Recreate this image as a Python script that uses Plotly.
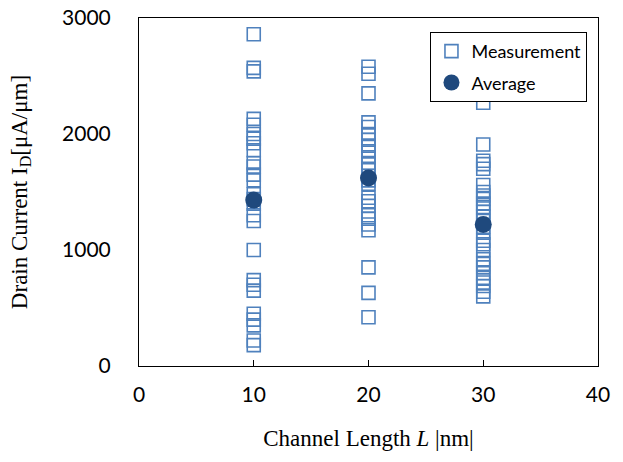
import plotly.graph_objects as go

lengths = [10, 20, 30]
meas_10 = [2860, 2570, 2540, 2130, 2080, 2000, 1960, 1920, 1860, 1750, 1720, 1650, 1600,
           1480, 1440, 1400, 1300, 1250, 1000, 740, 700, 650, 450, 400, 350, 220, 180]
meas_20 = [2580, 2520, 2350, 2100, 2060, 2000, 1950, 1900, 1850, 1800, 1750, 1700, 1640,
           1600, 1570, 1450, 1420, 1380, 1300, 1270, 1220, 1170, 850, 630, 420]
meas_30 = [2270, 1910, 1770, 1740, 1700, 1560, 1500, 1470, 1440, 1400, 1370, 1330, 1290,
           1250, 1200, 1150, 1080, 1050, 1000, 920, 880, 850, 800, 760, 720, 690, 640, 600]
averages = [1430, 1620, 1220]

mx, my = [], []
for L, vals in zip(lengths, [meas_10, meas_20, meas_30]):
    mx += [L] * len(vals)
    my += vals

fig = go.Figure()
fig.add_trace(go.Scatter(
    x=mx, y=my, mode="markers", name="Measurement", legendgroup="m",
    marker=dict(symbol="square-open", size=13, color="#4f81bd", line=dict(width=1.6)),
))
fig.add_trace(go.Scatter(
    x=lengths, y=averages, mode="markers", name="Average", legendgroup="a",
    marker=dict(symbol="circle", size=17, color="#1f497d"),
))

fig.update_layout(
    width=623, height=462,
    margin=dict(l=139, r=25, t=18, b=96, autoexpand=False),
    paper_bgcolor="white", plot_bgcolor="white",
    font=dict(family="Lato, Open Sans, sans-serif", color="black"),
    showlegend=True,
    legend=dict(
        x=0.635, y=0.96, xanchor="left", yanchor="top",
        bordercolor="black", borderwidth=1, bgcolor="white",
        font=dict(size=18, family="Lato, Open Sans, sans-serif"),
        traceorder="grouped", tracegroupgap=5,
    ),
    xaxis=dict(
        range=[0, 40], tickvals=[0, 10, 20, 30, 40], ticks="inside", ticklen=6,
        tickcolor="black", showline=True, linecolor="black", linewidth=1, mirror=True,
        showgrid=False, zeroline=False, tickfont=dict(size=21), automargin=False,
        ticklabelstandoff=10,
        title=dict(text="Channel Length <i>L</i> |nm|", standoff=24,
                   font=dict(family="Liberation Serif, Times New Roman, serif", size=23)),
    ),
    yaxis=dict(
        range=[0, 3000], tickvals=[0, 1000, 2000, 3000], ticks="",
        showline=True, linecolor="black", linewidth=1, mirror=True,
        showgrid=False, zeroline=False, tickfont=dict(size=21), automargin=False,
        ticklabelstandoff=23,
        title=dict(text="Drain Current I<sub>D</sub>[μA/μm]", standoff=28,
                   font=dict(family="Liberation Serif, Times New Roman, serif", size=23)),
    ),
)

fig.write_html("out.html")
